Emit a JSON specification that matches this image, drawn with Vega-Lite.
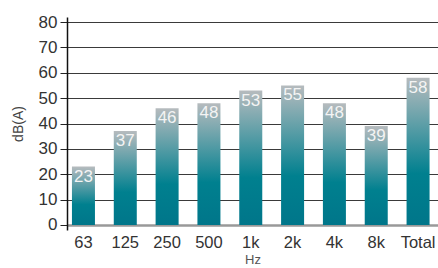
{
  "$schema": "https://vega.github.io/schema/vega-lite/v6.json",
  "width": 371,
  "height": 213,
  "autosize": {"type": "none"},
  "padding": {"left": 67, "top": 17, "right": 0, "bottom": 38},
  "background": "white",
  "config": {
    "view": {"stroke": null},
    "font": "Liberation Sans"
  },
  "data": {
    "values": [
      {"band": "63", "db": 23},
      {"band": "125", "db": 37},
      {"band": "250", "db": 46},
      {"band": "500", "db": 48},
      {"band": "1k", "db": 53},
      {"band": "2k", "db": 55},
      {"band": "4k", "db": 48},
      {"band": "8k", "db": 39},
      {"band": "Total", "db": 58}
    ]
  },
  "encoding": {
    "x": {
      "field": "band",
      "type": "nominal",
      "sort": null,
      "scale": {"paddingInner": 0.45, "paddingOuter": 0.16, "align": 0.37},
      "axis": {
        "title": "Hz",
        "titleFont": "Liberation Sans",
        "titleFontSize": 13,
        "titleFontWeight": "normal",
        "titleColor": "#555555",
        "titlePadding": 3,
        "labelAngle": 0,
        "labelFontSize": 16.5,
        "labelColor": "#333333",
        "labelPadding": 4,
        "ticks": false,
        "domain": false,
        "grid": false
      }
    },
    "y": {
      "field": "db",
      "type": "quantitative",
      "scale": {"domain": [-2, 82], "nice": false, "zero": false},
      "axis": {
        "title": "dB(A)",
        "titleFont": "Liberation Sans",
        "titleFontSize": 14,
        "titleFontWeight": "normal",
        "titleColor": "#444444",
        "titlePadding": 13,
        "values": [0, 10, 20, 30, 40, 50, 60, 70, 80],
        "labelOverlap": false,
        "labelFlush": false,
        "labelFontSize": 17,
        "labelColor": "#333333",
        "labelPadding": 3,
        "tickSize": 7,
        "tickColor": "#222222",
        "domainColor": "#111111",
        "domainWidth": 1.5,
        "gridColor": {"condition": {"test": "datum.value === 0", "value": "#999999"}, "value": "#3a3a3a"},
        "gridWidth": {"condition": {"test": "datum.value === 0", "value": 2.5}, "value": 1},
        "gridOpacity": 1
      }
    }
  },
  "layer": [
    {
      "mark": {
        "type": "bar",
        "color": {
          "gradient": "linear",
          "x1": 0, "y1": 1, "x2": 0, "y2": 0,
          "stops": [
            {"offset": 0, "color": "#00768a"},
            {"offset": 0.35, "color": "#00808f"},
            {"offset": 1, "color": "#b6bbbe"}
          ]
        }
      }
    },
    {
      "mark": {
        "type": "text",
        "baseline": "top",
        "dy": 2,
        "fontSize": 17,
        "color": "#f4f4f4"
      },
      "encoding": {
        "text": {"field": "db", "type": "quantitative"}
      }
    }
  ]
}
